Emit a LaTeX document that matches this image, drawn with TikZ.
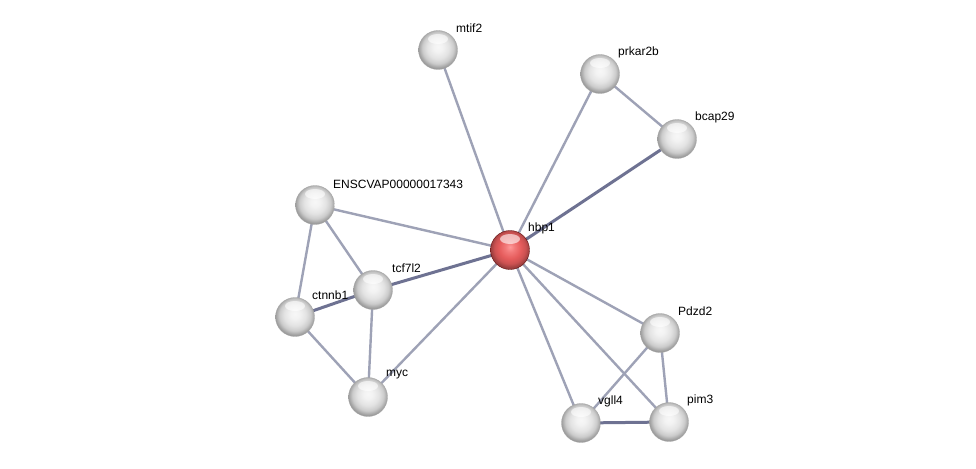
\documentclass[tikz,border=0pt]{standalone}
\usepackage{fontspec}
\setmainfont{Liberation Sans}
\pgfdeclareradialshading{greyball}{\pgfpoint{0bp}{4bp}}{color(0bp)=(white!97!black); color(6bp)=(white!95!black); color(14bp)=(white!89!black); color(20bp)=(white!80!black); color(25bp)=(white!62!black); color(29bp)=(white!55!black); color(50bp)=(white!50!black)}
\pgfdeclareradialshading{redball}{\pgfpoint{0bp}{4bp}}{color(0bp)=(red!40!white); color(6bp)=(red!50!white!95!black); color(14bp)=(red!60!white!90!black); color(20bp)=(red!60!white!80!black); color(25bp)=(red!60!white!60!black); color(29bp)=(red!60!white!50!black); color(50bp)=(red!60!white!45!black)}
\begin{document}
\begin{tikzpicture}[x=1pt,y=-1pt,
  prot/.style={circle,minimum size=39pt,inner sep=0pt,shading=greyball,draw=black!35,line width=0.3pt},
  hub/.style={prot,shading=redball,draw=red!35!black},
  shine/.style={fill=white,fill opacity=0.6,draw=none},
  lab/.style={font=\fontsize{12}{13}\selectfont,anchor=west,inner sep=0pt},
  edge/.style={draw={rgb,255:red,158;green,162;blue,182},line width=2.4pt},
  strong/.style={draw={rgb,255:red,110;green,114;blue,146},line width=3pt}]
\useasboundingbox (0,0) rectangle (976,468);
\fill[white] (0,0) rectangle (976,468);
% coordinates
\coordinate (cmtif2) at (438,50);
\coordinate (cprkar2b) at (600,74);
\coordinate (cbcap29) at (677,139);
\coordinate (cens) at (315,205);
\coordinate (chbp1) at (510,250);
\coordinate (ctcf) at (373,290);
\coordinate (cctnnb1) at (295,317);
\coordinate (cpdzd2) at (660,333);
\coordinate (cmyc) at (368,397);
\coordinate (cvgll4) at (581,423);
\coordinate (cpim3) at (669,422);
% edges
\draw[edge] (cmtif2) -- (chbp1);
\draw[edge] (cprkar2b) -- (chbp1);
\draw[edge] (cprkar2b) -- (cbcap29);
\draw[strong] (cbcap29) -- (chbp1);
\draw[edge] (cens) -- (chbp1);
\draw[edge] (cens) -- (ctcf);
\draw[edge] (cens) -- (cctnnb1);
\draw[strong] (ctcf) -- (chbp1);
\draw[strong] (cctnnb1) -- (ctcf);
\draw[edge] (ctcf) -- (cmyc);
\draw[edge] (cctnnb1) -- (cmyc);
\draw[edge] (cmyc) -- (chbp1);
\draw[edge] (chbp1) -- (cpdzd2);
\draw[edge] (chbp1) -- (cvgll4);
\draw[edge] (chbp1) -- (cpim3);
\draw[edge] (cpdzd2) -- (cvgll4);
\draw[edge] (cpdzd2) -- (cpim3);
\draw[strong] (cvgll4) -- (cpim3);
% nodes
\foreach \n/\c/\s in {mtif2/cmtif2/prot, prkar2b/cprkar2b/prot, bcap29/cbcap29/prot, ens/cens/prot, hbp1/chbp1/hub, tcf/ctcf/prot, ctnnb1/cctnnb1/prot, pdzd2/cpdzd2/prot, myc/cmyc/prot, vgll4/cvgll4/prot, pim3/cpim3/prot}{
  \node[\s] (\n) at (\c) {};
  \fill[shine] ([yshift=11]\c) ellipse (10 and 5);
}
% labels
\node[lab] (lmtif2) at ([shift={(18,-22)}]cmtif2) {mtif2};
\node[lab] (lprkar2b) at ([shift={(18,-22)}]cprkar2b) {prkar2b};
\node[lab] (lbcap29) at ([shift={(18,-22)}]cbcap29) {bcap29};
\node[lab] (lens) at ([shift={(18,-21)}]cens) {ENSCVAP00000017343};
\node[lab] (lhbp1) at ([shift={(18,-22)}]chbp1) {hbp1};
\node[lab] (ltcf) at ([shift={(19,-22)}]ctcf) {tcf7l2};
\node[lab] (lctnnb1) at ([shift={(17,-22)}]cctnnb1) {ctnnb1};
\node[lab] (lpdzd2) at ([shift={(18,-22)}]cpdzd2) {Pdzd2};
\node[lab] (lmyc) at ([shift={(18,-22)}]cmyc) {myc};
\node[lab] (lvgll4) at ([shift={(17,-22)}]cvgll4) {vgll4};
\node[lab] (lpim3) at ([shift={(18,-22)}]cpim3) {pim3};
\end{tikzpicture}
\end{document}
